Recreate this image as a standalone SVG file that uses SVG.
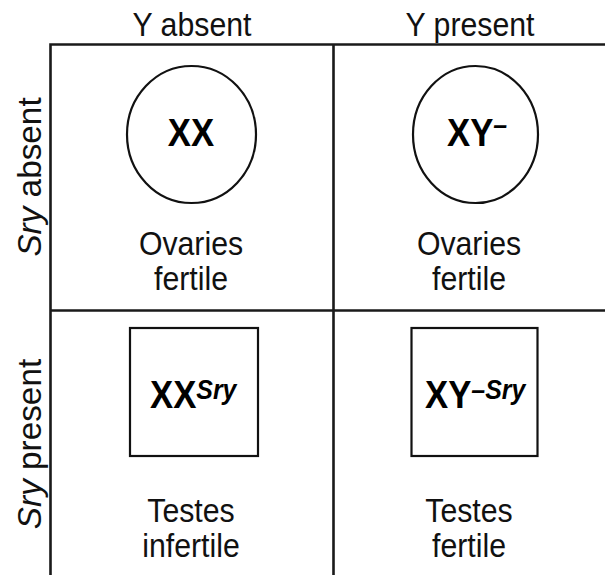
<svg xmlns="http://www.w3.org/2000/svg" width="605" height="575" viewBox="0 0 605 575">
  <style>
    .grid { stroke: #1a1a1a; stroke-width: 2.6; fill: none; }
    .shape { stroke: #111; stroke-width: 2.2; fill: #fff; }
    .lbl { font-family: "Liberation Sans", Arial, sans-serif; font-size: 34px; fill: #111; text-anchor: middle; }
    .geno { font-family: "Liberation Sans", Arial, sans-serif; font-size: 39px; font-weight: bold; fill: #000; }
    .sup { font-size: 28px; font-style: italic; }
    .it { font-style: italic; }
  </style>
  <rect width="605" height="575" fill="#fff"/>

  <!-- column headers (slightly condensed face) -->
  <text class="lbl" transform="translate(192,36) scale(0.89,1)">Y absent</text>
  <text class="lbl" transform="translate(470,36) scale(0.89,1)">Y present</text>

  <!-- row headers -->
  <text class="lbl" transform="translate(41,177) rotate(-90) scale(0.98,1)"><tspan class="it">Sry</tspan> absent</text>
  <text class="lbl" transform="translate(41,444) rotate(-90) scale(0.98,1)"><tspan class="it">Sry</tspan> present</text>

  <!-- table lines -->
  <g id="grid">
    <path class="grid" d="M50.5 575 V44.5 H605 M333.5 44.5 V575 M50.5 310.5 H605"/>
  </g>

  <g id="xx">
    <ellipse class="shape" cx="191.5" cy="134.5" rx="64.5" ry="68.5"/>
    <text class="geno" transform="translate(191,146) scale(0.89,1)" text-anchor="middle">XX</text>
    <text class="lbl" transform="translate(191,255) scale(0.89,1)">Ovaries</text>
    <text class="lbl" transform="translate(191,290) scale(0.89,1)">fertile</text>
  </g>

  <g id="xy-minus">
    <ellipse class="shape" cx="475.5" cy="134.5" rx="62.5" ry="68.5"/>
    <text class="geno" transform="translate(447,146) scale(0.89,1)">XY<tspan class="sup" font-style="normal" dy="-12">–</tspan></text>
    <text class="lbl" transform="translate(469,255) scale(0.89,1)">Ovaries</text>
    <text class="lbl" transform="translate(469,290) scale(0.89,1)">fertile</text>
  </g>

  <g id="xx-sry">
    <rect class="shape" x="130" y="328" width="128" height="128"/>
    <text class="geno" transform="translate(150,408) scale(0.89,1)">XX<tspan class="sup" dy="-9">Sry</tspan></text>
    <text class="lbl" transform="translate(191,522) scale(0.89,1)">Testes</text>
    <text class="lbl" transform="translate(191,557) scale(0.89,1)">infertile</text>
  </g>

  <g id="xy-minus-sry">
    <rect class="shape" x="411.5" y="328" width="126" height="128"/>
    <text class="geno" transform="translate(425,408) scale(0.89,1)">XY<tspan class="sup" dy="-9">–Sry</tspan></text>
    <text class="lbl" transform="translate(469,522) scale(0.89,1)">Testes</text>
    <text class="lbl" transform="translate(469,557) scale(0.89,1)">fertile</text>
  </g>
</svg>
